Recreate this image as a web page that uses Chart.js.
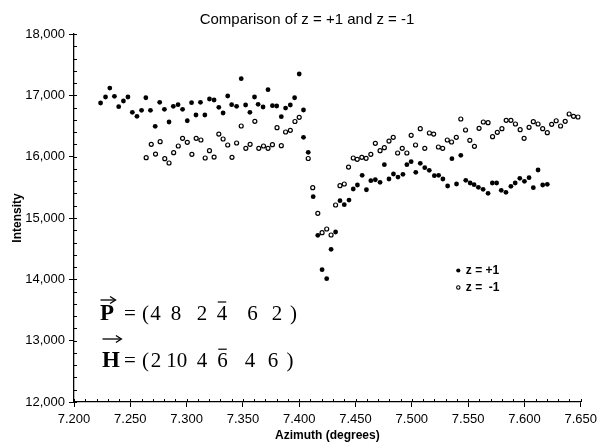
<!DOCTYPE html>
<html><head><meta charset="utf-8">
<script src="https://cdn.jsdelivr.net/npm/chart.js@4"></script>
<style>html,body{margin:0;padding:0;background:#fff}</style>
</head><body>
<canvas id="c" width="602" height="444"></canvas>
<script>
const chartTitle = 'Comparison of z = +1 and z = -1';
const xAxisTitle = 'Azimuth (degrees)';
const yAxisTitle = 'Intensity';
const seriesLabels = ['z = +1', 'z =  -1'];
const xTickValues = [7.200, 7.250, 7.300, 7.350, 7.400, 7.450, 7.500, 7.550, 7.600, 7.650];
const yTickValues = [12000, 13000, 14000, 15000, 16000, 17000, 18000];

const azimuthPlus = [7.2236,7.2280,7.2318,7.2359,7.2397,7.2439,7.2479,7.2518,7.2559,7.2600,
  7.2638,7.2679,7.2721,7.2761,7.2803,7.2844,7.2882,7.2924,7.2964,7.3006,
  7.3044,7.3083,7.3123,7.3162,7.3203,7.3244,7.3286,7.3324,7.3365,7.3400,
  7.3444,7.3485,7.3524,7.3562,7.3603,7.3635,7.3679,7.3723,7.3762,7.3800,
  7.3841,7.3879,7.3921,7.3959,7.4000,7.4038,7.4038,7.4080,7.4124,7.4165,
  7.4203,7.4244,7.4283,7.4323,7.4362,7.4400,7.4442,7.4480,7.4517,7.4559,
  7.4597,7.4636,7.4676,7.4718,7.4756,7.4797,7.4837,7.4877,7.4921,7.4956,
  7.4994,7.5035,7.5075,7.5115,7.5155,7.5200,7.5238,7.5276,7.5318,7.5356,
  7.5397,7.5435,7.5479,7.5518,7.5553,7.5591,7.5633,7.5677,7.5715,7.5753,
  7.5794,7.5836,7.5880,7.5918,7.5959,7.6000,7.6041,7.6079,7.6121,7.6162,7.6203];
const intensityPlus = [16875,16973,17119,16984,16815,16908,16973,16723,16658,16756,
  16961,16756,16495,16886,16772,16565,16821,16847,16772,16586,
  16880,16679,16886,16679,16940,16924,16805,16712,16989,16847,
  16821,17271,16842,16723,16973,16854,16810,17092,16831,16826,
  16652,16793,16842,16961,17348,16761,16316,16071,15347,14718,
  14157,14010,14490,14772,15282,15217,15293,15473,15538,15696,
  15461,15608,15624,15582,15869,15636,15717,15668,15712,15869,
  15918,15745,15892,15820,15778,15690,15696,15636,15522,15967,
  15554,16022,15615,15571,15543,15500,15468,15403,15571,15571,
  15452,15419,15517,15571,15647,15598,15657,15494,15783,15538,15549];

const azimuthMinus = [7.2641,7.2686,7.2724,7.2765,7.2806,7.2844,7.2885,7.2926,7.2964,7.3006,
  7.3047,7.3085,7.3127,7.3165,7.3203,7.3244,7.3286,7.3324,7.3365,7.3403,
  7.3444,7.3485,7.3526,7.3564,7.3606,7.3641,7.3683,7.3723,7.3762,7.3803,
  7.3841,7.3879,7.3921,7.3962,7.4000,7.4080,7.4120,7.4165,7.4203,7.4244,
  7.4283,7.4323,7.4362,7.4400,7.4438,7.4480,7.4515,7.4556,7.4594,7.4636,
  7.4676,7.4718,7.4756,7.4797,7.4835,7.4874,7.4915,7.4956,7.4994,7.5033,
  7.5075,7.5115,7.5156,7.5194,7.5236,7.5274,7.5315,7.5353,7.5395,7.5435,
  7.5477,7.5515,7.5556,7.5597,7.5635,7.5677,7.5717,7.5759,7.5800,7.5838,
  7.5880,7.5920,7.5962,7.5997,7.6041,7.6079,7.6121,7.6162,7.6203,7.6242,
  7.6282,7.6321,7.6362,7.6397,7.6436,7.6476];
const intensityMinus = [15983,16202,16043,16244,15967,15897,16065,16174,16299,16234,
  16038,16299,16272,15978,16097,15994,16369,16288,16190,15990,
  16223,16500,16136,16202,16576,16136,16174,16136,16195,16472,
  16179,16402,16430,16573,16642,15970,15494,15077,14760,14821,
  14723,15212,15527,15554,15831,15978,15957,15990,15973,16038,
  16218,16097,16146,16255,16316,16060,16136,16060,16348,16190,
  16456,16136,16386,16369,16158,16136,16272,16239,16316,16614,
  16435,16267,16169,16462,16565,16554,16326,16397,16456,16593,
  16593,16533,16440,16299,16479,16570,16533,16456,16391,16528,
  16586,16500,16576,16696,16658,16647];

const vectorP = [4, 8, 2, -4, 6, 2];
const vectorH = [2, 10, 4, -6, 4, 6];

const SANS = '"Liberation Sans", Arial, sans-serif';
const SERIF = '"Liberation Serif", "Times New Roman", serif';

const toPoints = (xs, ys) => xs.map((x, i) => ({x: x, y: ys[i]}));

const decorPlugin = {
  id: 'decor',
  afterLayout(chart) {
    // shift the title block so the title sits where it does in the original
    if (chart.titleBlock) {
      chart.titleBlock.left = 30;
      chart.titleBlock.right = 584;
    }
  },
  afterDraw(chart) {
    const ctx = chart.ctx;
    const xs = chart.scales.x, ys = chart.scales.y;
    const area = chart.chartArea;
    ctx.save();
    ctx.strokeStyle = '#000';
    ctx.lineWidth = 1;
    const xMin = xTickValues[0], xMax = xTickValues[xTickValues.length - 1];
    const nx = Math.round((xMax - xMin) / 0.01);
    for (let i = 0; i <= nx; i++) {
      const px = Math.round(xs.getPixelForValue(xMin + i * 0.01)) + 0.5;
      const len = (i % 5 === 0) ? 3 : 3;
      ctx.beginPath();
      ctx.moveTo(px, area.bottom);
      ctx.lineTo(px, area.bottom - len);
      ctx.stroke();
    }
    const yMin = yTickValues[0], yMax = yTickValues[yTickValues.length - 1];
    const ny = Math.round((yMax - yMin) / 200);
    for (let i = 0; i <= ny; i++) {
      const py = Math.round(ys.getPixelForValue(yMin + i * 200)) + 0.5;
      const len = 3;
      ctx.beginPath();
      ctx.moveTo(area.left, py);
      ctx.lineTo(area.left + len, py);
      ctx.stroke();
    }

    // legend (inside plot)
    const lx = area.left + 384.3, ly = area.top + 236.5;
    ctx.fillStyle = '#000';
    ctx.beginPath(); ctx.arc(lx, ly, 2.1, 0, Math.PI * 2); ctx.fill();
    ctx.lineWidth = 1.1;
    ctx.beginPath(); ctx.arc(lx, ly + 17, 1.7, 0, Math.PI * 2); ctx.fillStyle = '#fff'; ctx.fill(); ctx.stroke();
    ctx.fillStyle = '#000';
    ctx.font = 'bold 12px ' + SANS;
    ctx.textBaseline = 'middle';
    ctx.textAlign = 'left';
    ctx.fillText(seriesLabels[0], lx + 7.5, ly + 0.5);
    ctx.fillText(seriesLabels[1], lx + 7.5, ly + 17.5);

    // vector annotations
    const drawVector = (letter, comps, centers, baseline, arrowY, letterX, closeX) => {
      ctx.fillStyle = '#000';
      ctx.strokeStyle = '#000';
      ctx.textBaseline = 'alphabetic';
      ctx.font = 'bold 23px ' + SERIF;
      ctx.textAlign = 'left';
      ctx.fillText(letter, letterX, baseline);
      const lw = ctx.measureText(letter).width;
      ctx.lineWidth = 1.3;
      ctx.beginPath();
      ctx.moveTo(letterX + 0.5, arrowY);
      ctx.lineTo(letterX + lw + 1, arrowY);
      ctx.stroke();
      ctx.beginPath();
      ctx.moveTo(letterX + lw - 4, arrowY - 3.5);
      ctx.lineTo(letterX + lw + 1.5, arrowY);
      ctx.lineTo(letterX + lw - 4, arrowY + 3.5);
      ctx.stroke();
      ctx.font = '21px ' + SERIF;
      ctx.textAlign = 'center';
      ctx.fillText('=', area.left + 56, baseline);
      ctx.fillText('(', area.left + 71.5, baseline);
      ctx.fillText(')', area.left + closeX, baseline);
      comps.forEach((c, i) => {
        const s = String(Math.abs(c));
        const cx = area.left + centers[i];
        ctx.fillText(s, cx, baseline);
        if (c < 0) {
          const w = ctx.measureText(s).width;
          ctx.lineWidth = 1.2;
          ctx.beginPath();
          ctx.moveTo(cx - w / 2 + 1, baseline - 17.5);
          ctx.lineTo(cx + w / 2 - 1, baseline - 17.5);
          ctx.stroke();
        }
      });
    };
    drawVector('P', vectorP, [81.5, 102, 128, 148, 178.5, 203], area.top + 285.5, area.top + 266, area.left + 26, 219.5);
    drawVector('H', vectorH, [82, 102.7, 128, 148.5, 176, 199], area.top + 332.7, area.top + 305, area.left + 28, 216);
    ctx.restore();
  }
};

new Chart(document.getElementById('c'), {
  type: 'scatter',
  data: {
    datasets: [
      {
        label: seriesLabels[0],
        data: toPoints(azimuthPlus, intensityPlus),
        pointRadius: 2.4,
        pointBackgroundColor: '#000',
        pointBorderColor: '#000',
        pointBorderWidth: 0,
        showLine: false
      },
      {
        label: seriesLabels[1],
        data: toPoints(azimuthMinus, intensityMinus),
        pointRadius: 2.0,
        pointBackgroundColor: '#fff',
        pointBorderColor: '#000',
        pointBorderWidth: 1.2,
        showLine: false
      }
    ]
  },
  options: {
    responsive: false,
    animation: false,
    devicePixelRatio: 1,
    layout: { padding: { left: 0, right: 18, top: 0, bottom: 0 } },
    plugins: {
      legend: { display: false },
      tooltip: { enabled: false },
      title: {
        display: true,
        text: chartTitle,
        color: '#000',
        font: { family: SANS, size: 15, weight: 'normal', lineHeight: 1.2 },
        padding: { top: 11, bottom: 5 }
      }
    },
    scales: {
      x: {
        type: 'linear',
        min: xTickValues[0],
        max: xTickValues[xTickValues.length - 1],
        afterBuildTicks: s => { s.ticks = xTickValues.map(v => ({ value: v })); },
        afterFit: s => { s.height = 42; },
        ticks: {
          callback: v => Number(v).toFixed(3),
          color: '#000',
          font: { family: SANS, size: 13 },
          maxRotation: 0,
          autoSkip: false,
          padding: 5
        },
        grid: { drawOnChartArea: false, drawTicks: true, tickLength: 5, color: '#000', lineWidth: 1 },
        border: { display: true, color: '#000', width: 1.3 },
        title: {
          display: true,
          text: xAxisTitle,
          color: '#000',
          font: { family: SANS, size: 12, weight: 'bold', lineHeight: 1.2 },
          padding: { top: 0, bottom: 1 }
        }
      },
      y: {
        type: 'linear',
        min: yTickValues[0],
        max: yTickValues[yTickValues.length - 1],
        afterBuildTicks: s => { s.ticks = yTickValues.map(v => ({ value: v })); },
        afterFit: s => { s.width = 74; },
        ticks: {
          callback: v => Number(v).toLocaleString('en-US'),
          color: '#000',
          font: { family: SANS, size: 13 },
          autoSkip: false,
          padding: 4
        },
        grid: { drawOnChartArea: false, drawTicks: true, tickLength: 5, color: '#000', lineWidth: 1 },
        border: { display: true, color: '#000', width: 1.3 },
        title: {
          display: true,
          text: yAxisTitle,
          color: '#000',
          font: { family: SANS, size: 12, weight: 'bold', lineHeight: 1.2 },
          padding: { top: 10.8, bottom: 0 }
        }
      }
    }
  },
  plugins: [decorPlugin]
});
</script>
</body></html>
